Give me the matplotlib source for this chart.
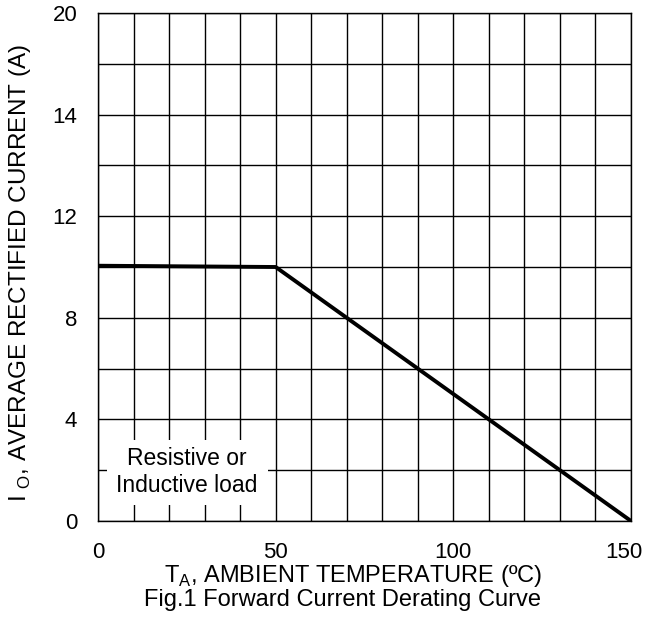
import matplotlib
matplotlib.use('Agg')
import matplotlib.pyplot as plt
from matplotlib.patches import Rectangle
from matplotlib.transforms import ScaledTranslation

plt.rcParams['font.family'] = ['Liberation Sans', 'DejaVu Sans']
plt.rcParams['mathtext.fontset'] = 'custom'
plt.rcParams['mathtext.rm'] = 'Liberation Sans'

# derating curve points
temp = [0, 50, 150]
current = [10.05, 10.0, 0]

# tick labels as printed on the chart
x_ticks = [0, 50, 100, 150]
y_tick_pos = [0, 4, 8, 12, 16, 20]
y_tick_labels = ['0', '4', '8', '12', '14', '20']

fig = plt.figure(figsize=(6.46, 6.21), dpi=100)
ax = fig.add_axes([98 / 646, 100 / 621, 533 / 646, 508 / 621])

# grid
for x in range(0, 151, 10):
    ax.axvline(x, color='black', lw=1.0, zorder=1)
for y in range(0, 21, 2):
    ax.axhline(y, color='black', lw=1.0, zorder=1)

ax.plot(temp, current, color='black', lw=2.8, zorder=3, solid_capstyle='butt')

ax.set_xlim(0, 150)
ax.set_ylim(0, 20)
ax.set_xticks(x_ticks)
ax.set_yticks(y_tick_pos)
ax.set_yticklabels(y_tick_labels)
ax.tick_params(length=0, labelsize=16, pad=15)
for s in ax.spines.values():
    s.set_color('black')
    s.set_linewidth(1.0)

# last x label sits a bit left so it stays inside the figure
last = ax.get_xticklabels()[-1]
last.set_transform(last.get_transform() + ScaledTranslation(-7 / 100, 0, fig.dpi_scale_trans))

# white patch behind the note, hides the grid
ax.add_patch(Rectangle((2.5, 0.63), 45.4, 2.56, facecolor='white',
                       edgecolor='none', zorder=2))
ax.text(25.0, 1.93, 'Resistive or\nInductive load', ha='center', va='center',
        fontsize=16.5, linespacing=1.2, zorder=4)

fig.text(20 / 646, 1 - 273 / 621, 'I $_{\\rm O}$, AVERAGE RECTIFIED CURRENT (A)',
         rotation=90, ha='center', va='center', fontsize=17.5)
fig.text(353 / 646, 1 - 582 / 621, 'T$_{\\rm A}$, AMBIENT TEMPERATURE (ºC)',
         ha='center', va='baseline', fontsize=17)
fig.text(343 / 646, 1 - 606 / 621, 'Fig.1 Forward Current Derating Curve',
         ha='center', va='baseline', fontsize=17)

fig.savefig('out.png', dpi=100)
